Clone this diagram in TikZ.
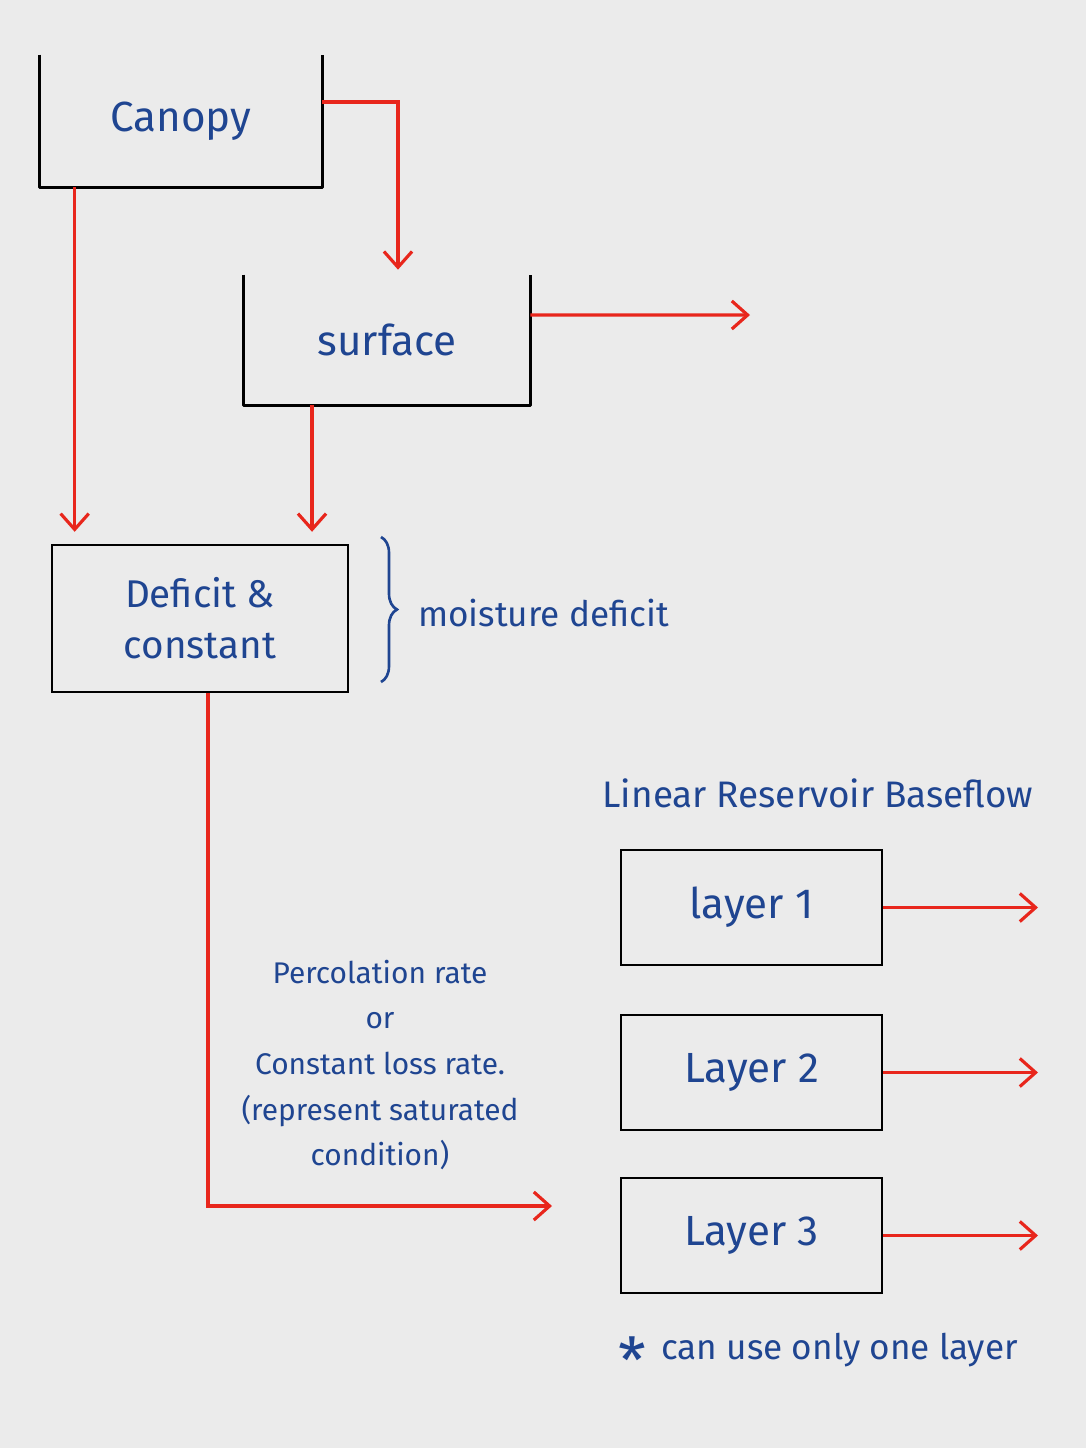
\documentclass[tikz,border=0pt]{standalone}
\usepackage{fontspec}
\setmainfont{Fira Sans}
\usetikzlibrary{arrows.meta,decorations.pathreplacing}
\definecolor{paper}{HTML}{EBEBEB}
\definecolor{ink}{HTML}{1F4591}
\definecolor{flowred}{HTML}{E8261C}

\tikzset{
  txt/.style={text=ink, inner sep=0pt},
  store/.style={txt, font=\fontsize{24}{28}\selectfont},
  wall/.style={line width=1.4pt, line join=round},
  flow/.style={draw=flowred, line width=1.8pt,
    -{Straight Barb[length=9pt,width=16pt,line width=1.8pt]}}
}

\begin{document}
\begin{tikzpicture}[x=0.02cm, y=-0.02cm]
    \useasboundingbox[fill=paper] (0,0) rectangle (1086,1448);

    % open-top stores
    \node[store, minimum width=5.64cm, minimum height=2.64cm] (canopy) at (181,121) {Canopy};
    \node[store, minimum width=5.72cm, minimum height=2.6cm] (surface) at (387,340) {surface};
    \foreach \n in {canopy, surface}
        \draw[wall] (\n.north west) -- (\n.south west) -- (\n.south east) -- (\n.north east);

    % soil moisture box
    \node[txt, draw=black, line width=1.4pt, minimum width=5.92cm, minimum height=2.94cm,
          align=center, font=\fontsize{22}{29}\selectfont] (deficit) at (200,618.5)
          {Deficit \&\\ constant};
    \draw[ink, line width=1.5pt, decorate, decoration={brace, amplitude=0.32cm}]
        (381,537) -- (381,682);
    \node[txt, anchor=west, font=\fontsize{20}{24}\selectfont] (moisture) at (418,613) {moisture deficit};

    % baseflow reservoirs
    \node[txt, font=\fontsize{21}{25}\selectfont] (baseflow) at (818,793) {Linear Reservoir Baseflow};
    \foreach \n/\t/\y in {1/layer 1/907.5, 2/Layer 2/1072.5, 3/Layer 3/1235.5} {
        \node[store, draw=black, line width=1.4pt, minimum width=5.22cm, minimum height=2.3cm]
            (layer\n) at (751.5,\y) {\t};
        \coordinate (out\n) at (1038,\y);
        \draw[flow] (layer\n) -- (out\n);
    }
    \node[txt, font=\fontsize{20}{24}\selectfont] (note) at (818,1350)
        {\raisebox{-1.3ex}[0pt][0pt]{\fontsize{36}{36}\selectfont *}\, can use only one layer};

    \node[txt, align=center, font=\fontsize{17}{26}\selectfont] (perc) at (380,1065)
        {Percolation rate\\ or\\ Constant loss rate.\\ (represent saturated\\ condition)};

    % flows
    \coordinate (c2d) at ([xshift=0.7cm]canopy.south west);
    \coordinate (s2d) at ([xshift=-1.5cm]surface.south);
    \coordinate (runoff) at (750,315);
    \coordinate (recharge) at (552,1206);
    \draw[flow, shorten >=0.24cm] (c2d) -- (c2d |- deficit.north);
    \draw[flow, shorten >=0.24cm] (s2d) -- (s2d |- deficit.north);
    \draw[flow, shorten >=0.1cm] ([yshift=0.38cm]canopy.east) -| ([xshift=0.22cm]surface.north);
    \draw[flow] ([yshift=0.5cm]surface.east) -- (runoff);
    \draw[flow] ([xshift=0.16cm]deficit.south) |- (recharge);
\end{tikzpicture}
\end{document}
